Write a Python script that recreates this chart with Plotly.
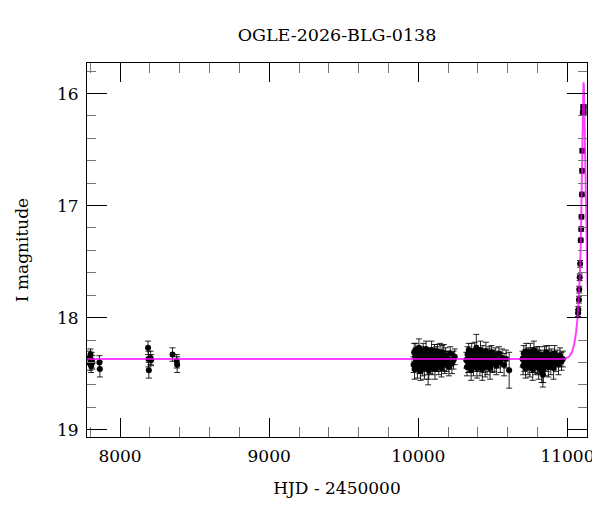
import plotly.graph_objects as go

# ---------------- data ----------------
title_text = "OGLE-2026-BLG-0138"
x_label = "HJD - 2450000"
y_label = "I magnitude"

# early seasons
early_t = [7795, 7799, 7802, 7806, 7810, 7814, 7862, 7865,
           8188, 8190, 8193, 8205, 8208,
           8352, 8380, 8383]
early_m = [18.36, 18.41, 18.33, 18.43, 18.38, 18.40, 18.40, 18.46,
           18.27, 18.37, 18.47, 18.36, 18.38,
           18.33, 18.39, 18.42]
early_e = [0.06, 0.06, 0.05, 0.06, 0.07, 0.06, 0.06, 0.07,
           0.06, 0.07, 0.07, 0.06, 0.05,
           0.06, 0.06, 0.07]

# season A
a_t = [9968, 9972, 9975, 9979, 9983, 9986, 9990, 9994, 9997, 10001, 10004, 10008,
       10011, 10015, 10019, 10022, 10026, 10030, 10033, 10037, 10041, 10044, 10048,
       10052, 10055, 10059, 10063, 10066, 10070, 10074, 10078, 10081, 10085, 10089,
       10093, 10097, 10100, 10104, 10108, 10112, 10116, 10120, 10124, 10128, 10132,
       10137, 10141, 10146, 10150, 10155, 10160, 10165, 10171, 10177, 10183, 10190,
       10197, 10205, 10214, 10225, 10236, 10244]
a_m = [18.42, 18.31, 18.46, 18.35, 18.29, 18.40, 18.37, 18.44, 18.33, 18.38, 18.27, 18.41,
       18.36, 18.48, 18.32, 18.39, 18.35, 18.43, 18.30, 18.38, 18.45, 18.34, 18.40,
       18.28, 18.37, 18.42, 18.36, 18.45, 18.47, 18.39, 18.33, 18.41, 18.36, 18.29,
       18.44, 18.38, 18.35, 18.40, 18.32, 18.46, 18.37, 18.34, 18.41, 18.30, 18.39,
       18.43, 18.36, 18.33, 18.38, 18.45, 18.31, 18.40, 18.36, 18.42, 18.34, 18.39,
       18.37, 18.44, 18.32, 18.41, 18.38, 18.35]
a_e = [0.07, 0.08, 0.09, 0.07, 0.06, 0.08, 0.07, 0.10, 0.07, 0.06, 0.08, 0.09,
       0.07, 0.08, 0.06, 0.07, 0.08, 0.09, 0.07, 0.07, 0.10, 0.06, 0.08,
       0.07, 0.06, 0.09, 0.07, 0.15, 0.08, 0.07, 0.06, 0.09, 0.07, 0.08,
       0.07, 0.10, 0.07, 0.06, 0.08, 0.09, 0.07, 0.08, 0.07, 0.06, 0.09,
       0.08, 0.07, 0.10, 0.07, 0.08, 0.06, 0.07, 0.12, 0.08, 0.07, 0.09,
       0.07, 0.08, 0.06, 0.09, 0.08, 0.07]

# season B
b_t = [10322, 10326, 10330, 10334, 10338, 10342, 10346, 10350, 10354, 10358, 10362,
       10366, 10370, 10374, 10378, 10382, 10386, 10389, 10393, 10397, 10401, 10405,
       10409, 10413, 10417, 10421, 10425, 10429, 10433, 10437, 10441, 10445, 10449,
       10453, 10457, 10461, 10466, 10471, 10476, 10481, 10486, 10491, 10497, 10503,
       10509, 10516, 10523, 10531, 10540, 10550, 10562, 10575, 10588, 10609]
b_m = [18.38, 18.44, 18.33, 18.40, 18.29, 18.36, 18.42, 18.35, 18.47, 18.31, 18.39,
       18.34, 18.43, 18.37, 18.30, 18.41, 18.36, 18.27, 18.45, 18.38, 18.33, 18.40,
       18.35, 18.43, 18.29, 18.39, 18.36, 18.46, 18.32, 18.41, 18.37, 18.34, 18.44,
       18.30, 18.38, 18.42, 18.35, 18.40, 18.33, 18.45, 18.37, 18.31, 18.41, 18.36,
       18.39, 18.34, 18.43, 18.38, 18.32, 18.40, 18.36, 18.42, 18.37, 18.47]
b_e = [0.07, 0.08, 0.07, 0.09, 0.06, 0.08, 0.07, 0.07, 0.09, 0.08, 0.07,
       0.06, 0.09, 0.07, 0.08, 0.07, 0.08, 0.12, 0.09, 0.07, 0.06, 0.08,
       0.07, 0.09, 0.08, 0.07, 0.06, 0.10, 0.07, 0.08, 0.07, 0.06, 0.09,
       0.08, 0.07, 0.09, 0.07, 0.08, 0.07, 0.10, 0.07, 0.06, 0.08, 0.07,
       0.09, 0.07, 0.08, 0.07, 0.06, 0.09, 0.08, 0.10, 0.08, 0.16]

# season C
c_t = [10699, 10703, 10707, 10711, 10715, 10719, 10723, 10727, 10731, 10735, 10739,
       10743, 10747, 10751, 10755, 10759, 10763, 10767, 10771, 10775, 10779, 10783,
       10787, 10791, 10795, 10799, 10803, 10807, 10811, 10815, 10819, 10823, 10827,
       10831, 10835, 10838, 10842, 10846, 10850, 10854, 10858, 10862, 10867, 10872,
       10877, 10882, 10888, 10894, 10900, 10907, 10914, 10922, 10931, 10940, 10950,
       10960, 10969]
c_m = [18.37, 18.43, 18.32, 18.40, 18.35, 18.45, 18.30, 18.39, 18.36, 18.42, 18.33,
       18.38, 18.44, 18.31, 18.37, 18.41, 18.34, 18.46, 18.36, 18.29, 18.40, 18.35,
       18.43, 18.38, 18.32, 18.41, 18.37, 18.45, 18.33, 18.39, 18.42, 18.36, 18.48,
       18.40, 18.51, 18.46, 18.38, 18.34, 18.43, 18.37, 18.31, 18.40, 18.36, 18.44,
       18.33, 18.39, 18.42, 18.35, 18.38, 18.45, 18.32, 18.40, 18.36, 18.42, 18.34,
       18.39, 18.37]
c_e = [0.07, 0.08, 0.07, 0.08, 0.06, 0.09, 0.07, 0.08, 0.07, 0.09, 0.06,
       0.07, 0.09, 0.08, 0.07, 0.08, 0.07, 0.10, 0.07, 0.08, 0.09, 0.07,
       0.08, 0.07, 0.06, 0.09, 0.08, 0.10, 0.07, 0.08, 0.09, 0.07, 0.10,
       0.08, 0.11, 0.12, 0.07, 0.08, 0.09, 0.07, 0.06, 0.08, 0.07, 0.09,
       0.08, 0.07, 0.09, 0.07, 0.08, 0.10, 0.07, 0.08, 0.07, 0.09, 0.07,
       0.08, 0.07]

# rising part of the event
rise_t = [11071, 11073, 11077, 11079, 11082, 11085, 11089, 11092, 11094, 11097,
          11098, 11099, 11103, 11105, 11109, 11110]
rise_m = [17.96, 17.93, 17.84, 17.75, 17.64, 17.52, 17.31, 17.21, 17.10, 16.90,
          16.69, 16.51, 16.17, 16.12, 16.17, 16.12]
rise_e = [0.03, 0.03, 0.03, 0.03, 0.03, 0.03, 0.02, 0.02, 0.02, 0.02,
          0.02, 0.02, 0.02, 0.02, 0.02, 0.02]

# model curve
model_t = [7700, 10980, 11010, 11030, 11045, 11058, 11068, 11076, 11083, 11089,
           11094, 11098, 11101, 11104, 11106, 11108, 11110, 11113, 11117, 11121,
           11125, 11129, 11133, 11140]
model_m = [18.37, 18.37, 18.35, 18.31, 18.24, 18.13, 18.00, 17.85, 17.63, 17.36,
           17.06, 16.74, 16.45, 16.18, 16.00, 15.90, 15.93, 16.12, 16.50, 16.90,
           17.20, 17.45, 17.62, 17.85]

x_range = [7778.5, 11131]
y_range = [19.066, 15.727]

# ---------------- figure ----------------
all_t = early_t + a_t + b_t + c_t + rise_t
all_m = early_m + a_m + b_m + c_m + rise_m
all_e = early_e + a_e + b_e + c_e + rise_e

FONT = "DejaVu Serif"

fig = go.Figure()
fig.add_trace(go.Scatter(
    x=all_t, y=all_m, mode="markers",
    marker=dict(color="black", size=6),
    error_y=dict(type="data", array=all_e, visible=True,
                 color="rgba(0,0,0,0.85)", thickness=1, width=3),
    showlegend=False, hoverinfo="x+y"))
fig.add_trace(go.Scatter(
    x=model_t, y=model_m, mode="lines",
    line=dict(color="rgba(255,0,255,0.75)", width=2),
    showlegend=False))

axis_common = dict(
    showline=True, linecolor="black", linewidth=1, mirror="allticks",
    ticks="inside", tickcolor="black", tickwidth=1,
    showgrid=False, zeroline=False, automargin=False,
    tickformat="d",
    tickfont=dict(family=FONT, size=17, color="black"),
)

fig.update_xaxes(
    range=x_range, tick0=0, dtick=1000, ticklen=19,
    ticklabelstandoff=4,
    minor=dict(ticks="inside", ticklen=10, tickcolor="#777777", dtick=200, tick0=0),
    title=dict(text=x_label, font=dict(family=FONT, size=17, color="black"), standoff=16),
    **axis_common)
fig.update_yaxes(
    range=y_range, tick0=0, dtick=1, ticklen=20,
    ticklabelstandoff=4,
    minor=dict(ticks="inside", ticklen=9, tickcolor="#777777", dtick=0.2, tick0=0),
    title=dict(text=y_label, font=dict(family=FONT, size=17, color="black"), standoff=24),
    **axis_common)

# the page body adds an 8px margin at left/top, so the figure is 8px smaller
fig.update_layout(
    width=592, height=504,
    margin=dict(l=79, r=13, t=55, b=75, pad=0, autoexpand=False),
    paper_bgcolor="white", plot_bgcolor="white",
    title=dict(text=title_text, x=0.5, xref="paper", xanchor="center",
               y=1 - 27 / 504, yref="container", yanchor="middle",
               font=dict(family=FONT, size=17.5, color="black")),
    font=dict(family=FONT, size=17, color="black"),
)

fig.write_html("out.html")
